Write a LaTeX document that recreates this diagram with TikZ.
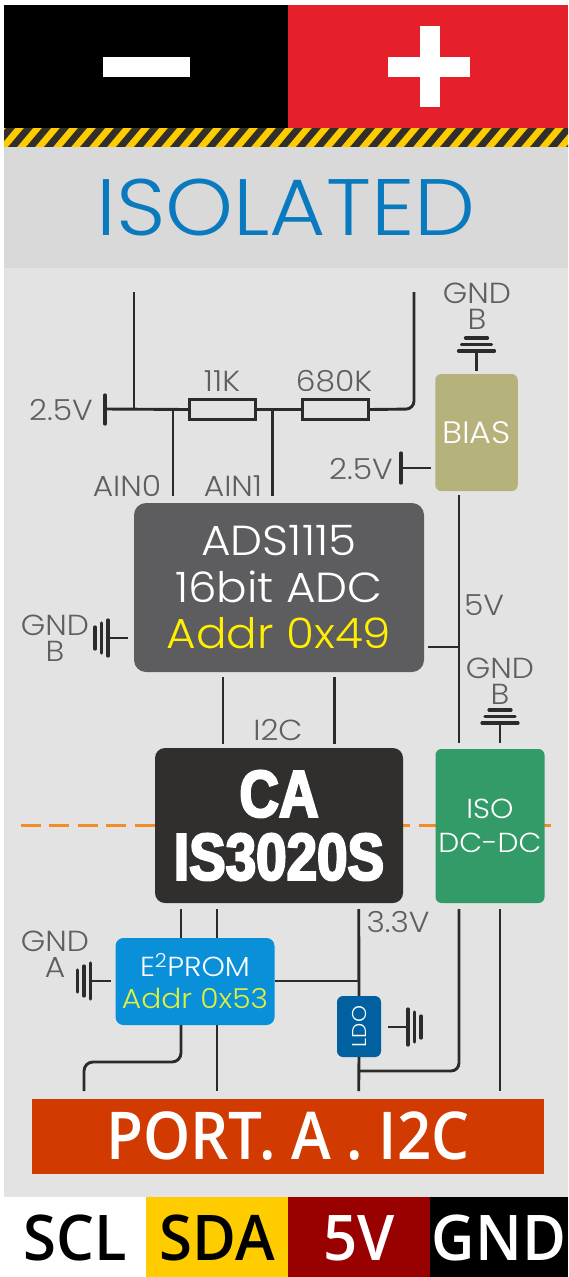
\documentclass[tikz,border=0pt]{standalone}
\usepackage{fontspec}
\setmainfont{Poppins}[UprightFont=* Light,FakeStretch=1.08]
\newfontfamily\portfont{Open Sans}[UprightFont=* Semibold,FakeStretch=0.91]
\newfontfamily\bandfont{Open Sans}[UprightFont=* Semibold,FakeStretch=0.95]
\newfontfamily\heavyfont{Liberation Sans}[UprightFont=* Bold,FakeStretch=0.83,FakeBold=3.5]
\tikzset{
  wire/.style={draw=ink, line width=2.9pt},
  tick/.style={draw=ink, line width=3.2pt, line cap=round},
  chip/.style={rounded corners=#1, inner sep=0pt, text=white, align=center},
  chip/.default=8pt,
  lab/.style={text=gray6, inner sep=0pt, align=center, font=\fontsize{29}{26}\selectfont},
  resistor/.style={draw=ink, line width=3pt, minimum width=66pt, minimum height=20pt, inner sep=0pt},
  band/.style={inner sep=0pt, font=\bandfont\fontsize{63}{63}\selectfont},
  ground/.pic={
    \draw[wire] (0,0) -- (0,-20);
    \draw[tick] (-18,-20) -- (18,-20);
    \draw[tick] (-15,-26.5) -- (15,-26.5);
    \draw[tick] (-11,-33) -- (11,-33);
  }
}
\begin{document}
\begin{tikzpicture}[x=1pt,y=-1pt]
  \definecolor{ink}{RGB}{43,43,43}
  \definecolor{gray6}{RGB}{95,95,95}
  \definecolor{panel}{RGB}{227,227,227}
  \definecolor{title}{RGB}{217,217,217}
  \definecolor{plusred}{RGB}{230,32,42}
  \definecolor{hazard}{RGB}{255,204,0}
  \definecolor{stripe}{RGB}{50,46,42}
  \definecolor{isoblue}{RGB}{10,122,191}
  \definecolor{biasbox}{RGB}{181,178,124}
  \definecolor{adsbox}{RGB}{93,92,94}
  \definecolor{cabox}{RGB}{49,46,46}
  \definecolor{isobox}{RGB}{50,155,104}
  \definecolor{eepbox}{RGB}{10,143,217}
  \definecolor{ldobox}{RGB}{0,96,160}
  \definecolor{dashorange}{RGB}{242,140,40}
  \definecolor{portred}{RGB}{209,58,0}
  \definecolor{sdayellow}{RGB}{255,204,0}
  \definecolor{fivered}{RGB}{153,0,0}
  \definecolor{addryellow}{RGB}{255,240,0}
  \definecolor{addrlime}{RGB}{225,240,60}

  \useasboundingbox (0,0) rectangle (568,1277);
  \fill[white] (0,0) rectangle (568,1277);

  \fill[black] (4,5) rectangle (288,128);
  \fill[plusred] (288,5) rectangle (568,128);
  \fill[white] (102.5,57) rectangle (190,77);
  \fill[white] (388,57) rectangle (470,77);
  \fill[white] (419.5,26) rectangle (439.5,107);

  \fill[hazard] (4,128) rectangle (568,147);
  \begin{scope}
    \clip (4,128) rectangle (568,147);
    \foreach \x in {-10,8,...,590} {
      \fill[stripe] (\x,147) -- (\x+9,147) -- (\x+25,128) -- (\x+16,128) -- cycle;
    }
  \end{scope}

  \fill[title] (4,147) rectangle (568,268);
  \fill[panel] (4,268) rectangle (568,1197);
  \node[text=isoblue, inner sep=0pt, font=\fontsize{80}{80}\selectfont] (isolated) at (286,207) {ISOLATED};

  \draw[dashorange, line width=3pt, dash pattern=on 20pt off 8.4pt] (21,825) -- (551,825);

  \node[chip=12pt, fill=adsbox, minimum width=290pt, minimum height=169pt,
    font=\fontsize{42}{46.5}\selectfont] (ads) at (279,587.5) {ADS1115\\16bit ADC\\\textcolor{addryellow}{Addr 0x49}};
  \node[chip=10pt, fill=cabox, minimum width=248pt, minimum height=155pt,
    font=\heavyfont\fontsize{66}{63}\selectfont] (ca) at (279,825.5) {CA\\IS3020S};
  \node[chip=6pt, fill=biasbox, minimum width=82.5pt, minimum height=117pt,
    font=\fontsize{31}{31}\selectfont] (bias) at (476.5,432.5) {BIAS};
  \node[chip=6pt, fill=isobox, minimum width=109pt, minimum height=154pt,
    font=\fontsize{27.5}{33.5}\selectfont] (iso) at (490,826) {ISO\\DC-DC};
  \node[chip=8pt, fill=eepbox, minimum width=159pt, minimum height=87pt,
    font=\fontsize{27.5}{32}\selectfont] (eeprom) at (195,981.5) {E\textsuperscript{2}PROM\\\textcolor{addrlime}{Addr 0x53}};
  \node[chip=6pt, fill=ldobox, minimum width=44pt, minimum height=61pt] (ldo) at (359,1026.5) {};
  \node[text=white, rotate=90, inner sep=0pt, font=\fontsize{20}{20}\selectfont] (ldotext) at (ldo) {LDO};
  \node[fill=portred, inner sep=0pt, minimum width=512pt, minimum height=75pt, text=white,
    font=\portfont\fontsize{66}{66}\selectfont] (port) at (288,1136.5) {PORT. A . I2C};

  \foreach \name/\txt/\back/\front/\left/\wide in {
    scl/SCL/white/black/4/142,
    sda/SDA/sdayellow/black/146/142,
    fivev/5V/fivered/white/288/142,
    gnd/GND/black/white/430/138
  } {
    \fill[\back] (\left,1197) rectangle (\left+\wide,1277);
    \node[band, text=\front] (\name) at (\left+\wide/2,1238) {\txt};
  }

  \node[resistor] (rone) at (222.5,409.5) {};
  \node[resistor] (rtwo) at (335,409.5) {};
  \node[lab] (ronelab) at (222,381) {11K};
  \node[lab] (rtwolab) at (334,381) {680K};
  \node[lab] (railvlab) at (61,410) {2.5V};
  \node[lab] (biasvlab) at (361,469) {2.5V};
  \node[lab] (ainzero) at (127,486) {AIN0};
  \node[lab] (ainone) at (233,486) {AIN1};
  \node[lab] (fivevlab) at (484,605) {5V};
  \node[lab] (itwoclab) at (278,730) {I2C};
  \node[lab] (threelab) at (398,922) {3.3V};
  \node[lab] (gndbias) at (477,306) {GND\\B};
  \node[lab] (gndads) at (55,638) {GND\\B};
  \node[lab] (gndiso) at (500,681) {GND\\B};
  \node[lab] (gndeep) at (55,954) {GND\\A};

  \coordinate (railend) at (105,409);
  \coordinate (railtop) at (134,292);
  \coordinate (railjoin) at (134,409);
  \coordinate (ainzerotop) at (173,409);
  \coordinate (ainzeroend) at (173,496);
  \coordinate (ainonetop) at (272.5,409);
  \coordinate (ainoneend) at (272.5,496);
  \coordinate (sensetop) at (414,292);
  \coordinate (sensecorner) at (414,409);
  \coordinate (biasvend) at (401,468);
  \coordinate (biasvstub) at (431,468);
  \coordinate (fivetop) at (459,495);
  \coordinate (fiveend) at (459,743);
  \coordinate (fivejoin) at (459,647);
  \coordinate (adspower) at (428,647);

  \draw[wire] (railend) -- (rone.west);
  \draw[tick] (105,395) -- (105,424);
  \draw[wire] (railtop) -- (railjoin);
  \draw[wire] (rone.east) -- (rtwo.west);
  \draw[wire] (ainzerotop) -- (ainzeroend);
  \draw[wire] (ainonetop) -- (ainoneend);
  \draw[wire, rounded corners=8pt] (rtwo.east) -- (sensecorner) -- (sensetop);
  \draw[wire] (biasvend) -- (biasvstub);
  \draw[tick] (401,453) -- (401,483);
  \draw[wire] (fivetop) -- (fiveend);
  \draw[wire] (adspower) -- (fivejoin);

  \foreach \x in {223,334.5} {
    \draw[wire] (\x,677) -- (\x,744);
  }

  \coordinate (sclcatop) at (181,909);
  \coordinate (sdacatop) at (217,909);
  \coordinate (threetop) at (358.7,909);
  \coordinate (threejoin) at (358.7,981);
  \coordinate (ldojoin) at (358.7,1071);
  \coordinate (ldoend) at (358.7,1091);
  \coordinate (fivebot) at (459,909);
  \coordinate (fivecorner) at (459,1071);
  \coordinate (gndtop) at (500,909);
  \coordinate (gndend) at (500,1091);

  \draw[wire] (sclcatop) -- (sclcatop |- eeprom.north);
  \draw[wire] (sdacatop) -- (sdacatop |- eeprom.north);
  \draw[wire, rounded corners=9pt] (sclcatop |- eeprom.south) -- (181,1062) -- (84,1062) -- (84,1091);
  \draw[wire] (sdacatop |- eeprom.south) -- (217,1091);
  \draw[wire] (threetop) -- (ldo.north);
  \draw[wire] (eeprom.east |- threejoin) -- (threejoin);
  \draw[wire] (ldo.south) -- (ldoend);
  \draw[wire, rounded corners=8pt] (ldojoin) -- (fivecorner) -- (fivebot);
  \draw[wire] (gndtop) -- (gndend);

  \pic at (476.5,371) {ground};
  \pic at (500,743) {ground};
  \pic[rotate=90] at (128,638) {ground};
  \pic[rotate=90] at (110.5,981) {ground};
  \pic[rotate=-90] at (388,1027) {ground};
\end{tikzpicture}
\end{document}
